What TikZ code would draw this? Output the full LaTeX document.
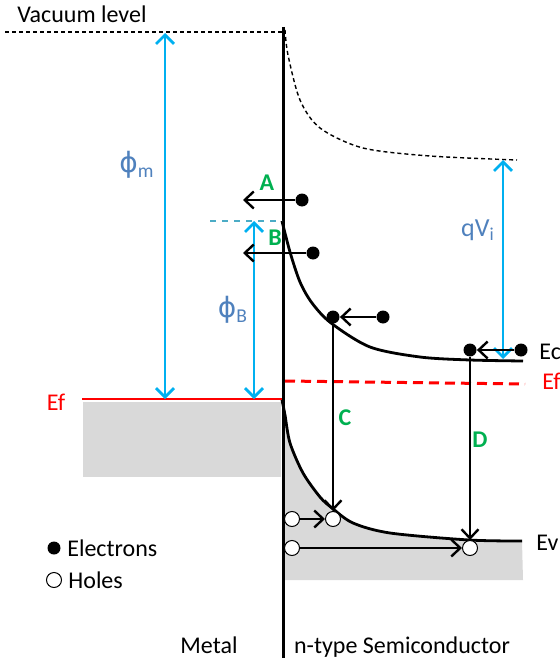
\documentclass[tikz,border=0pt]{standalone}
\usepackage{fontspec}
\setmainfont{Carlito}
\newfontfamily\phifont{DejaVu Sans}
\usetikzlibrary{arrows.meta, positioning}
\definecolor{skyArrow}{HTML}{00B0F0}
\definecolor{phiBlue}{HTML}{4F81BD}
\definecolor{tagGreen}{HTML}{00B050}
\definecolor{bandGray}{HTML}{D9D9D9}
\definecolor{barrierDash}{HTML}{4BACC6}

\begin{document}
\begin{tikzpicture}[
    x=0.5pt, y=-0.5pt,
    txt/.style={font=\fontsize{12}{14}\selectfont, inner sep=0pt},
    tag/.style={font=\fontsize{12}{14}\selectfont\bfseries, text=tagGreen, inner sep=0pt},
    sym/.style={font=\fontsize{14}{16}\selectfont, text=phiBlue, inner sep=0pt},
    elec/.style={circle, fill=black, minimum size=6.5pt, inner sep=0pt},
    hole/.style={circle, draw=black, fill=white, line width=0.5pt, minimum size=7.5pt, inner sep=0pt},
    arr/.style={-{Straight Barb[length=4.5pt, width=8.5pt]}, line width=1.2pt},
    gap/.style={{Straight Barb[length=4.5pt, width=9pt]}-{Straight Barb[length=4.5pt, width=9pt]}, line width=1.4pt, draw=skyArrow},
    band/.style={line width=1.4pt},
    vac/.style={line width=0.7pt, dash pattern=on 2pt off 1.5pt}
]
    \clip (0,0) rectangle (559,658);

    % filled states
    \fill[bandGray] (83,402) rectangle (281,477);
    \fill[bandGray] plot[smooth] coordinates {(282,400) (285,415) (290,443) (303,473) (320,497) (332,508) (353,523) (390,533) (469,540) (522,541)}
        -- (523,580) -- (283,580) -- cycle;

    % vacuum level
    \node[txt, anchor=base west] (vaclbl) at (17,23) {Vacuum level};
    \coordinate (vacL) at (5,32);
    \coordinate (vacR) at (283,32);
    \draw[vac] (vacL) -- (vacR);
    \draw[vac] plot[smooth] coordinates {(285,30) (288,55) (300,100) (320,128) (363,148) (430,156) (517,160)};

    % interface
    \coordinate (wallT) at (283,27);
    \coordinate (wallB) at (283,658);
    \draw[line width=1.5pt] (wallT) -- (wallB);

    % Fermi levels
    \coordinate (efmL) at (82,399);
    \coordinate (efmR) at (282,399);
    \draw[red, line width=1.3pt] (efmL) -- (efmR);
    \node[txt, text=red] (efm) at (56,402) {Ef};
    \coordinate (efsL) at (285,381);
    \coordinate (efsR) at (525,384);
    \draw[red, line width=1.5pt, dash pattern=on 5pt off 3pt] (efsL) -- (efsR);
    \node[txt, text=red, anchor=base west] (efs) at (542,389) {Ef};

    % bands
    \draw[band] plot[smooth] coordinates {(282,221) (290,252) (300,282) (312,303) (331,323) (370,347) (420,357) (470,360) (523,361)};
    \draw[band] plot[smooth] coordinates {(282,400) (285,415) (290,443) (303,473) (320,497) (332,508) (353,523) (390,533) (469,540) (522,541)};
    \node[txt, anchor=base west] (ec) at (539,359) {Ec};
    \node[txt, anchor=base west] (ev) at (536,550) {Ev};

    % barrier top
    \coordinate (barL) at (210,221);
    \coordinate (barR) at (282,221);
    \draw[barrierDash, line width=0.6pt, dashed] (barL) -- (barR);

    % energy gaps
    \coordinate (phimT) at (165,33);
    \coordinate (phimB) at (165,399);
    \draw[gap] (phimT) -- (phimB);
    \node[sym] (phim) at (137,165) {{\phifont ϕ}\textsubscript{m}};
    \coordinate (phibT) at (254,221);
    \coordinate (phibB) at (254,399);
    \draw[gap] (phibT) -- (phibB);
    \node[sym] (phib) at (233,310) {{\phifont ϕ}\textsubscript{B}};
    \coordinate (qviT) at (503,160);
    \coordinate (qviB) at (503,359);
    \draw[gap] (qviT) -- (qviB);
    \node[sym, font=\fontsize{13}{15}\selectfont] (qvi) at (478,230) {qV\textsubscript{i}};

    % A, B: emission over the barrier
    \node[elec] (eA) at (302,200) {};
    \coordinate (tA) at (243,200);
    \draw[arr] (eA) -- (tA);
    \node[tag] (lblA) at (267,183) {A};
    \node[elec] (eB) at (313,253) {};
    \coordinate (tB) at (243,253);
    \draw[arr] (eB) -- (tB);
    \node[tag] (lblB) at (275,238) {B};

    % C, D: recombination
    \node[elec] (cL) at (333,317) {};
    \node[elec] (cR) at (383,317) {};
    \node[elec] (dL) at (470,350) {};
    \node[elec] (dR) at (521,350) {};
    \node[hole] (hC0) at (292,519) {};
    \node[hole] (hC) at (333,519) {};
    \node[hole] (hD0) at (292,548) {};
    \node[hole] (hD) at (470,548) {};
    \draw[arr] (cR) -- (cL);
    \draw[arr] (dR) -- (dL);
    \draw[arr] (cL) -- (hC);
    \draw[arr] (dL) -- (hD);
    \draw[arr] (hC0) -- (hC);
    \draw[arr] (hD0) -- (hD);
    \node[tag] (lblC) at (345,418) {C};
    \node[tag] (lblD) at (480,440) {D};

    % legend
    \node[elec] (legE) at (54,548) {};
    \node[txt, right=3pt of legE] (legEt) {Electrons};
    \node[hole] (legH) at (54,580) {};
    \node[txt, right=3pt of legH] (legHt) {Holes};

    \node[txt, anchor=base] (metal) at (209,653) {Metal};
    \node[txt, anchor=base] (semi) at (402,653) {n-type Semiconductor};
\end{tikzpicture}
\end{document}
